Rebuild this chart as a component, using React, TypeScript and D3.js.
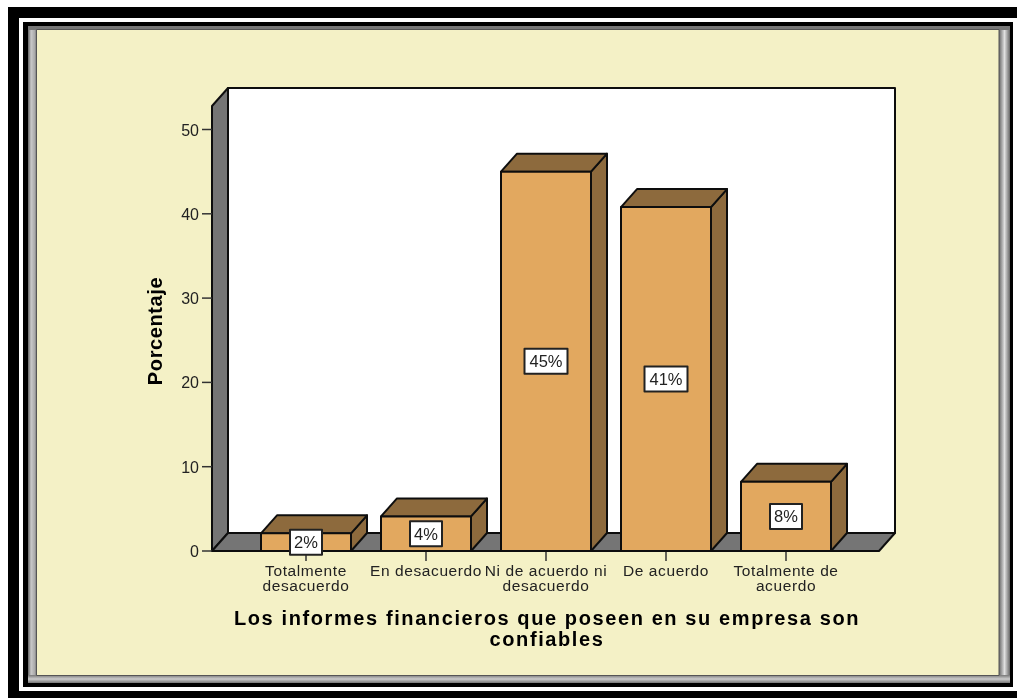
import React from "react";
import * as d3 from "d3";

const categories = ["Totalmente desacuerdo", "En desacuerdo", "Ni de acuerdo ni desacuerdo", "De acuerdo", "Totalmente de acuerdo"];
const values = [2.1, 4.1, 45, 40.8, 8.2];
const valueLabels = ["2%", "4%", "45%", "41%", "8%"];
const categoryLines = [["Totalmente", "desacuerdo"], ["En desacuerdo"], ["Ni de acuerdo ni", "desacuerdo"], ["De acuerdo"], ["Totalmente de", "acuerdo"]];
const yTicks = [0, 10, 20, 30, 40, 50];
const yTitle = "Porcentaje";
const xTitleLines = ["Los informes financieros que poseen en su empresa son", "confiables"];

const W = 1017, H = 698;
const DX = 16, DY = 18;
const y = d3.scaleLinear().domain([0, 50]).range([551, 129.5]);
const x = d3.scaleBand<string>().domain(categories).range([246, 846]).paddingInner(0.25).paddingOuter(0.125);
const line = d3.line();
const poly = (pts: [number, number][]) => line(pts) + "Z";
const font = "Arial, 'Liberation Sans', sans-serif";
const ink = "#111";
const sw = 2;

export default function App() {
  const x0 = 212, x1 = 879, yb = y(0), yt = 106;
  return (
    <svg width={W} height={H} style={{ position: "absolute", left: 0, top: 0, background: "#fff" }} fontFamily={font}>
      <defs>
        <linearGradient id="gl" x1="0" x2="1" y1="0" y2="0">
          <stop offset="0" stopColor="#666" /><stop offset="0.35" stopColor="#c8c8c8" /><stop offset="0.75" stopColor="#aaa" /><stop offset="1" stopColor="#666" />
        </linearGradient>
        <linearGradient id="gr" x1="0" x2="1" y1="0" y2="0">
          <stop offset="0" stopColor="#666" /><stop offset="0.5" stopColor="#e0e0e0" /><stop offset="1" stopColor="#666" />
        </linearGradient>
        <linearGradient id="gb" x1="0" x2="0" y1="0" y2="1">
          <stop offset="0" stopColor="#777" /><stop offset="0.5" stopColor="#ccc" /><stop offset="1" stopColor="#777" />
        </linearGradient>
        <filter id="soft" x="0" y="0" width="100%" height="100%">
          <feGaussianBlur stdDeviation="0.4" />
        </filter>
      </defs>
      <g filter="url(#soft)" strokeLinejoin="round">
        {/* outer frame */}
        <rect x={8} y={7} width={W - 8} height={11} fill="#000" />
        <rect x={8} y={7} width={11} height={H - 7} fill="#000" />
        <rect x={8} y={691} width={W - 8} height={7} fill="#000" />
        <rect x={23} y={22} width={990} height={665} fill="#000" />
        <rect x={28} y={26} width={982} height={657} fill="#777" />
        <rect x={28} y={30} width={9} height={653} fill="url(#gl)" />
        <rect x={999} y={30} width={11} height={653} fill="url(#gr)" />
        <rect x={28} y={675} width={982} height={8} fill="url(#gb)" />
        <rect x={36.5} y={29.5} width={962.5} height={646} fill="#f4f1c6" stroke="#555" strokeWidth={1} />

        {/* plot walls */}
        <rect x={x0 + DX} y={yt - DY} width={x1 - x0} height={yb - yt} fill="#fff" stroke={ink} strokeWidth={sw} />
        <path d={poly([[x0, yt], [x0 + DX, yt - DY], [x0 + DX, yb - DY], [x0, yb]])} fill="#747474" stroke={ink} strokeWidth={sw} />
        <path d={poly([[x0, yb], [x0 + DX, yb - DY], [x1 + DX, yb - DY], [x1, yb]])} fill="#747474" stroke={ink} strokeWidth={sw} />

        {/* y axis */}
        {yTicks.map((t) => (
          <g key={t}>
            <line x1={x0 - 10} x2={x0} y1={y(t)} y2={y(t)} stroke="#333" strokeWidth={1.5} />
            <text x={199} y={y(t) + 6} textAnchor="end" fontSize={16} fill="#222">{t}</text>
          </g>
        ))}
        <text transform="translate(162,331) rotate(-90)" textAnchor="middle" fontSize={20} fontWeight={700} letterSpacing={0.6} fill="#000">{yTitle}</text>

        {/* bars */}
        {categories.map((c, i) => {
          const bx = x(c)!, bw = x.bandwidth(), top = y(values[i]), bottom = y(0);
          const cx = bx + bw / 2;
          const labelY = (top + bottom) / 2;
          const label = valueLabels[i];
          const lw = label.length > 2 ? 43 : 32;
          return (
            <g key={c}>
              <line x1={cx} x2={cx} y1={bottom} y2={bottom + 10} stroke="#333" strokeWidth={1.5} />
              <path d={poly([[bx + bw, top], [bx + bw + DX, top - DY], [bx + bw + DX, bottom - DY], [bx + bw, bottom]])} fill="#8d6b3e" stroke={ink} strokeWidth={sw} />
              <path d={poly([[bx, top], [bx + DX, top - DY], [bx + bw + DX, top - DY], [bx + bw, top]])} fill="#8d6b3e" stroke={ink} strokeWidth={sw} />
              <rect x={bx} y={top} width={bw} height={bottom - top} fill="#e2a85f" stroke={ink} strokeWidth={sw} />
              <rect x={cx - lw / 2} y={labelY - 12.5} width={lw} height={25} fill="#fff" stroke="#222" strokeWidth={sw} />
              <text x={cx} y={labelY + 6} textAnchor="middle" fontSize={16.5} fill="#222">{label}</text>
              {categoryLines[i].map((l, j) => (
                <text key={j} x={cx} y={576 + j * 15} textAnchor="middle" fontSize={15.5} letterSpacing={0.6} fill="#222">{l}</text>
              ))}
            </g>
          );
        })}

        {xTitleLines.map((l, j) => (
          <text key={j} x={547} y={625 + j * 21} textAnchor="middle" fontSize={20} fontWeight={700} letterSpacing={1.6} fill="#000">{l}</text>
        ))}
      </g>
    </svg>
  );
}
